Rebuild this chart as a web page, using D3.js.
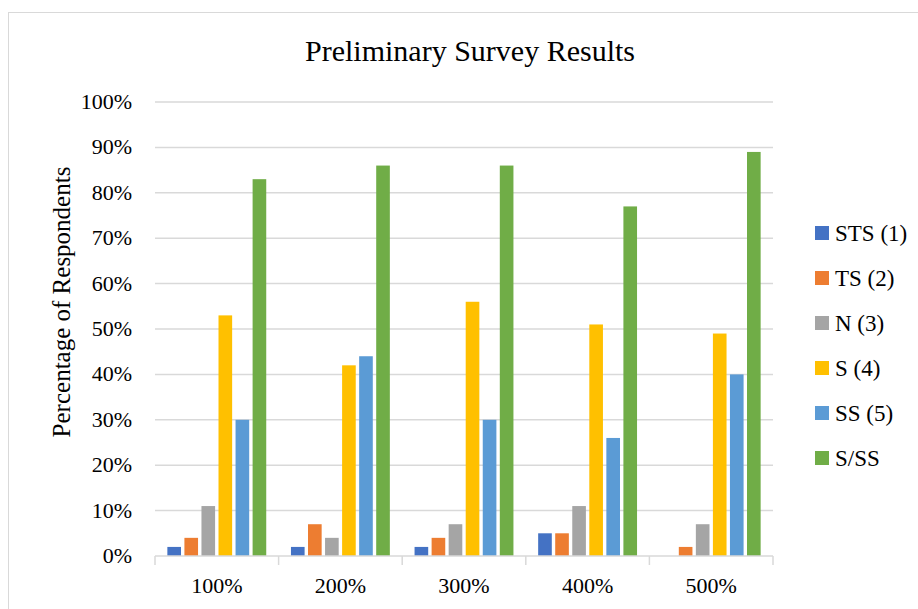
<!DOCTYPE html>
<html>
<head>
<meta charset="utf-8">
<script src="https://cdn.jsdelivr.net/npm/d3@7"></script>
<style>
  body { margin: 0; background: #fff; }
</style>
</head>
<body>
<div id="main"></div>
<script>
// survey data, one array per answer series (percent)
var categories = ["100%", "200%", "300%", "400%", "500%"];
var seriesNames = ["STS (1)", "TS (2)", "N (3)", "S (4)", "SS (5)", "S/SS"];
var seriesColors = ["#4472C4", "#ED7D31", "#A5A5A5", "#FFC000", "#5B9BD5", "#70AD47"];
var sts  = [2, 2, 2, 5, 0];
var ts   = [4, 7, 4, 5, 2];
var neu  = [11, 4, 7, 11, 7];
var s4   = [53, 42, 56, 51, 49];
var ss5  = [30, 44, 30, 26, 40];
var sss  = [83, 86, 86, 77, 89];
var yTicks = [0, 10, 20, 30, 40, 50, 60, 70, 80, 90, 100];

var ctx = {
    w: 918,
    h: 609,
    left: 155,
    right: 773,
    top: 102,
    bottom: 556,
    FONT: "'Liberation Serif', 'Times New Roman', serif"
};

var createViz = function(){
    var allSeries = [sts, ts, neu, s4, ss5, sss];
    var svgEl = d3.select("#main").append("svg")
        .attr("width", ctx.w)
        .attr("height", ctx.h);

    // chart area frame
    svgEl.append("rect")
        .attr("x", 8.5).attr("y", 12.5)
        .attr("width", 1000).attr("height", 700)
        .style("fill", "#fff")
        .style("stroke", "#d9d9d9");

    var x0 = d3.scaleBand().domain(categories)
        .range([ctx.left, ctx.right])
        .paddingInner(0.2).paddingOuter(0.1);
    var x1 = d3.scaleBand().domain(seriesNames)
        .range([0, x0.bandwidth()])
        .paddingInner(0.2);
    var y = d3.scaleLinear().domain([0, 100]).range([ctx.bottom, ctx.top]);

    // gridlines
    svgEl.append("g").selectAll("line")
        .data(yTicks.slice(1))
        .enter().append("line")
        .attr("x1", ctx.left).attr("x2", ctx.right)
        .attr("y1", function(d){ return y(d); })
        .attr("y2", function(d){ return y(d); })
        .style("stroke", "#d9d9d9").style("stroke-width", 1.5);

    // y tick labels
    svgEl.append("g").selectAll("text")
        .data(yTicks)
        .enter().append("text")
        .attr("x", 132)
        .attr("y", function(d){ return y(d) + 7; })
        .style("text-anchor", "end")
        .style("font-family", ctx.FONT)
        .style("font-size", "22px")
        .text(function(d){ return d + "%"; });

    // bars
    var groups = svgEl.append("g").selectAll("g")
        .data(categories)
        .enter().append("g")
        .attr("transform", function(d){ return "translate(" + x0(d) + ",0)"; });
    groups.selectAll("rect")
        .data(function(c, i){
            return seriesNames.map(function(n, k){ return {name: n, k: k, v: allSeries[k][i]}; });
        })
        .enter().append("rect")
        .attr("x", function(d){ return x1(d.name); })
        .attr("width", x1.bandwidth())
        .attr("y", function(d){ return y(d.v); })
        .attr("height", function(d){ return y(0) - y(d.v); })
        .style("fill", function(d){ return seriesColors[d.k]; });

    // x axis line and ticks between categories
    svgEl.append("line")
        .attr("x1", ctx.left).attr("x2", ctx.right)
        .attr("y1", y(0)).attr("y2", y(0))
        .style("stroke", "#d9d9d9").style("stroke-width", 1.5);
    var edges = categories.map(function(c, i){ return ctx.left + i * x0.step(); });
    edges.push(ctx.right);
    svgEl.append("g").selectAll("line")
        .data(edges)
        .enter().append("line")
        .attr("x1", function(d){ return d; }).attr("x2", function(d){ return d; })
        .attr("y1", y(0)).attr("y2", y(0) + 9)
        .style("stroke", "#d9d9d9").style("stroke-width", 1.5);

    // x labels
    svgEl.append("g").selectAll("text")
        .data(categories)
        .enter().append("text")
        .attr("x", function(d){ return x0(d) + x0.bandwidth() / 2; })
        .attr("y", 593)
        .style("text-anchor", "middle")
        .style("font-family", ctx.FONT)
        .style("font-size", "22px")
        .text(function(d){ return d; });

    // title
    svgEl.append("text")
        .attr("x", 470).attr("y", 61)
        .style("text-anchor", "middle")
        .style("font-family", ctx.FONT)
        .style("font-size", "30px")
        .text("Preliminary Survey Results");

    // y-axis label
    svgEl.append("text")
        .attr("transform", "translate(70," + ((ctx.top + ctx.bottom) / 2 - 27) + ") rotate(-90)")
        .style("text-anchor", "middle")
        .style("font-family", ctx.FONT)
        .style("font-size", "25px")
        .text("Percentage of Respondents");

    // legend
    var leg = svgEl.append("g").selectAll("g")
        .data(seriesNames)
        .enter().append("g")
        .attr("transform", function(d, i){ return "translate(815," + (233 + i * 45) + ")"; });
    leg.append("rect")
        .attr("x", 0).attr("y", -7)
        .attr("width", 14).attr("height", 14)
        .style("fill", function(d, i){ return seriesColors[i]; });
    leg.append("text")
        .attr("x", 20).attr("y", 8)
        .style("font-family", ctx.FONT)
        .style("font-size", "23px")
        .text(function(d){ return d; });
};

createViz();
</script>
</body>
</html>
